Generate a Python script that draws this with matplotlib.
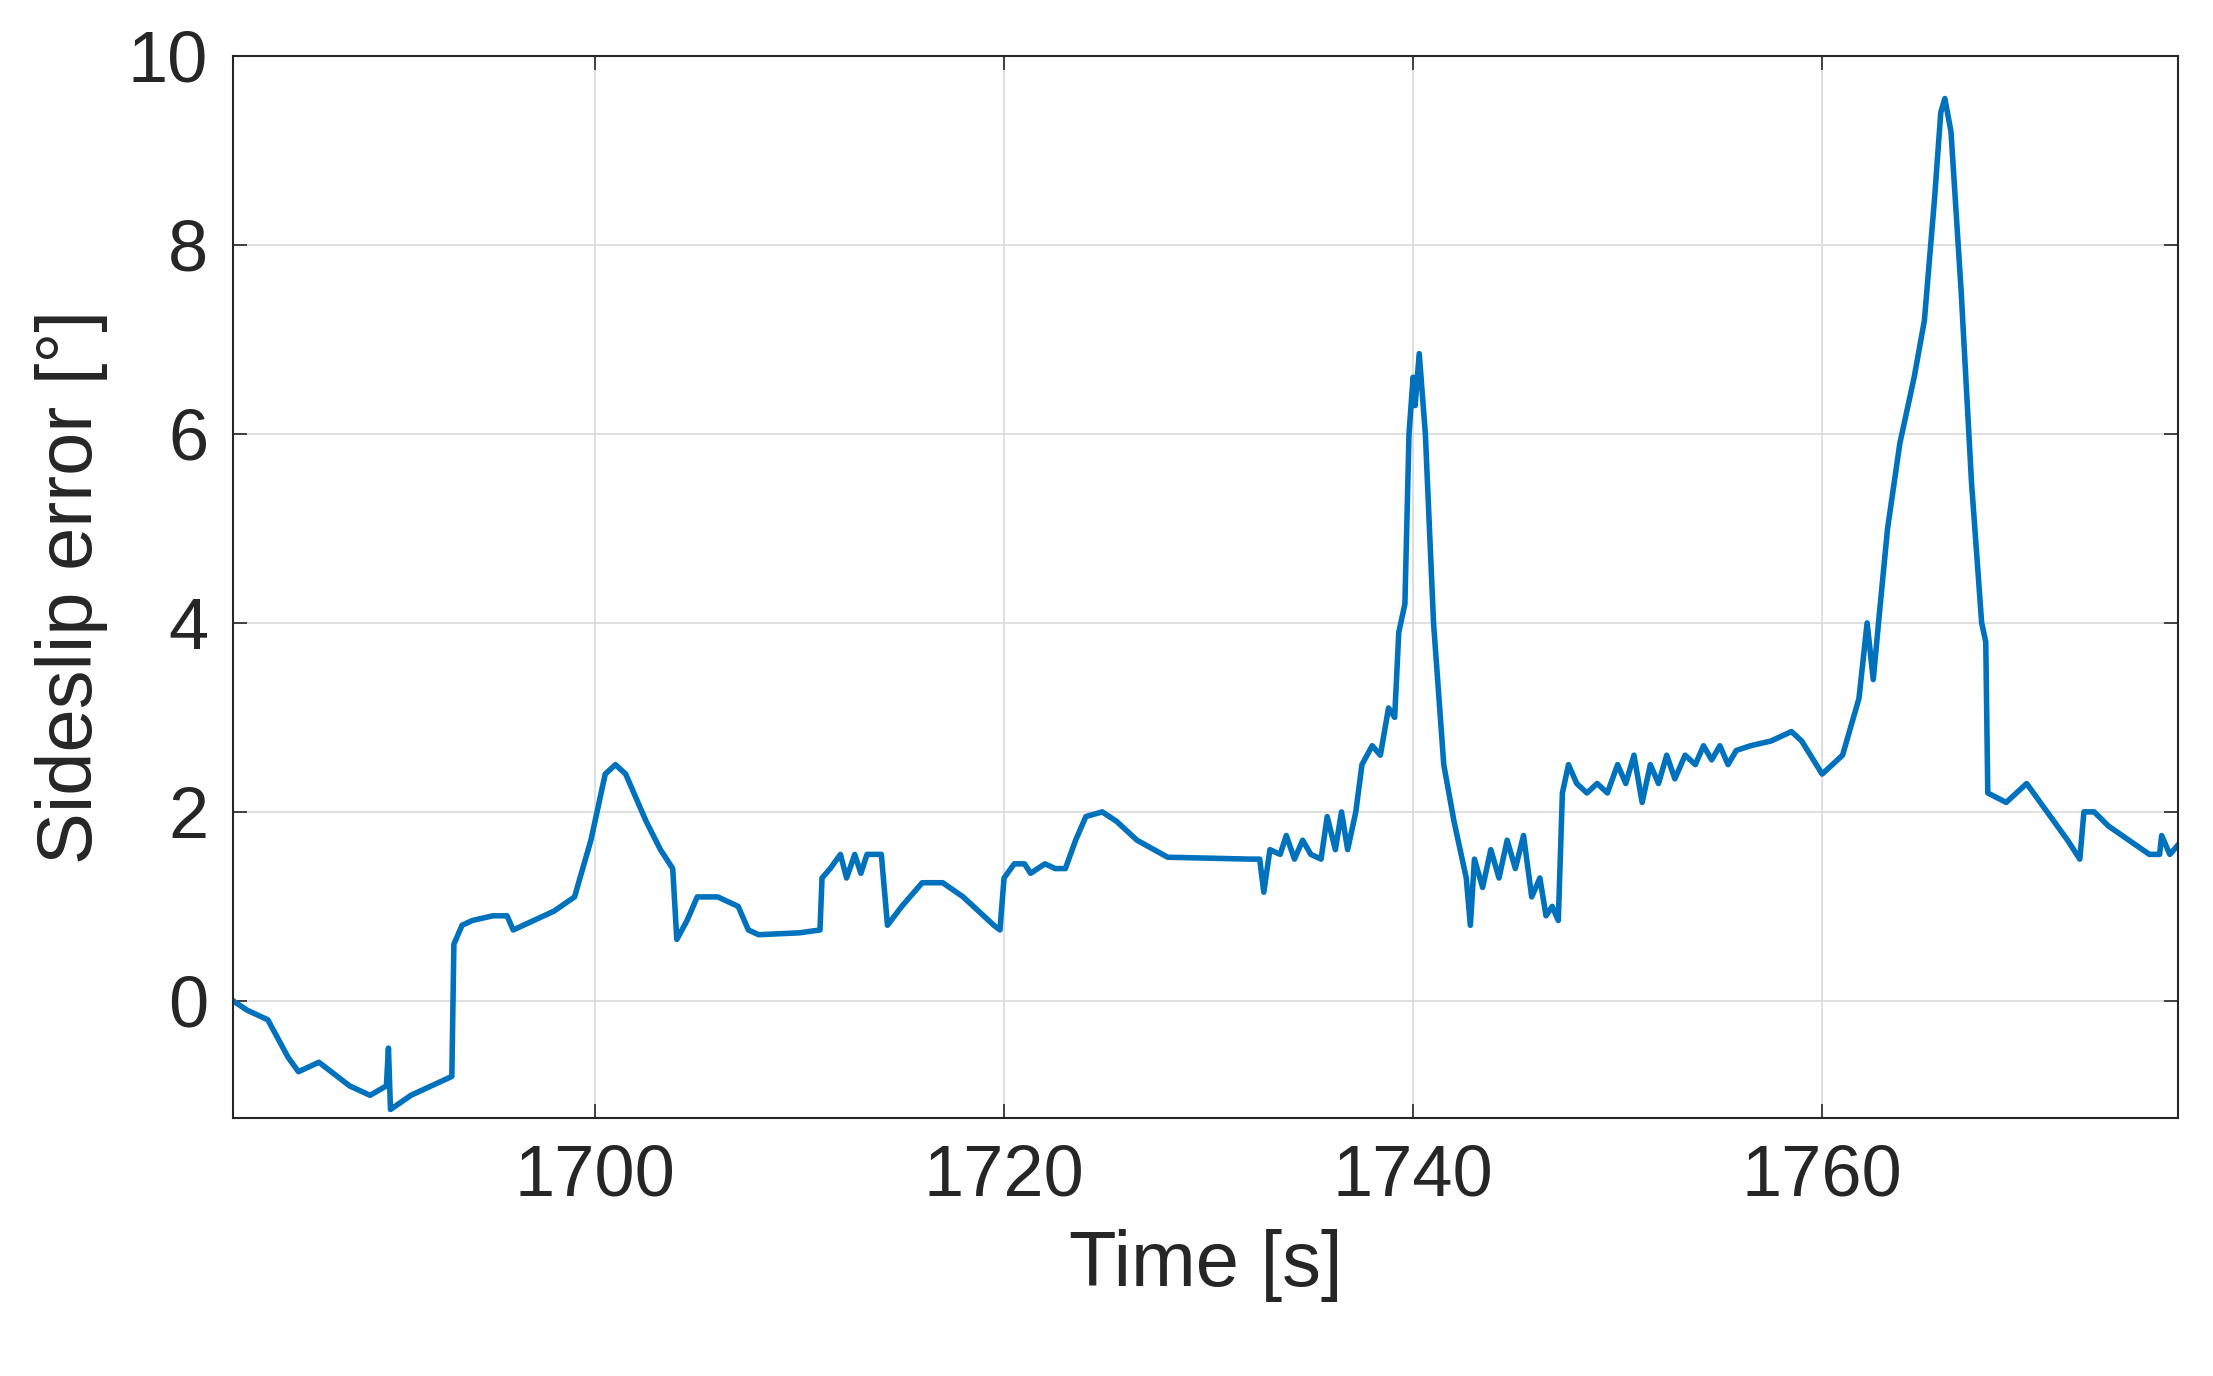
import matplotlib
matplotlib.use("Agg")
import matplotlib.pyplot as plt

t = [1682.3,1683,1684,1685,1685.5,1686.5,1688,1689,1689.8,1689.9,1690,1691,1693,1693.1,1693.5,1694,1695,1695.7,1696,1697,1698,1699,1699.8,1700.5,1701,1701.5,1702.5,1703.2,1703.8,1704,1704.5,1705,1706,1707,1707.5,1708,1710,1711,1711.1,1711.5,1712,1712.3,1712.7,1713,1713.3,1714,1714.3,1715,1716,1717,1718,1719.5,1719.8,1720,1720.5,1721,1721.3,1722,1722.5,1723,1723.5,1724,1724.8,1725.5,1726.5,1728,1732,1732.5,1732.7,1733,1733.5,1733.8,1734.2,1734.6,1735,1735.5,1735.8,1736.2,1736.5,1736.8,1737.2,1737.5,1738,1738.4,1738.8,1739.1,1739.3,1739.6,1739.8,1740,1740.1,1740.3,1740.6,1741,1741.5,1742,1742.3,1742.6,1742.8,1743,1743.4,1743.8,1744.2,1744.6,1745,1745.4,1745.8,1746.2,1746.5,1746.8,1747.1,1747.3,1747.6,1748,1748.5,1749,1749.5,1750,1750.4,1750.8,1751.2,1751.6,1752,1752.4,1752.8,1753.3,1753.8,1754.2,1754.6,1755,1755.4,1755.8,1756.5,1757.5,1758.5,1759,1760,1761,1761.8,1762.2,1762.5,1762.8,1763.2,1763.8,1764.5,1765,1765.5,1765.8,1766,1766.3,1766.8,1767.3,1767.8,1768,1768.1,1769,1770,1771,1772,1772.6,1772.8,1773.3,1774,1775,1776,1776.5,1776.6,1777,1777.4]
err = [0,-0.1,-0.2,-0.6,-0.75,-0.65,-0.9,-1.0,-0.9,-0.5,-1.15,-1.0,-0.8,0.6,0.8,0.85,0.9,0.9,0.75,0.85,0.95,1.1,1.7,2.4,2.5,2.4,1.9,1.6,1.4,0.65,0.85,1.1,1.1,1.0,0.75,0.7,0.72,0.75,1.3,1.4,1.55,1.3,1.55,1.35,1.55,1.55,0.8,1.0,1.25,1.25,1.1,0.8,0.75,1.3,1.45,1.45,1.35,1.45,1.4,1.4,1.7,1.95,2.0,1.9,1.7,1.52,1.5,1.5,1.15,1.6,1.55,1.75,1.5,1.7,1.55,1.5,1.95,1.6,2.0,1.6,2.0,2.5,2.7,2.6,3.1,3.0,3.9,4.2,6.0,6.6,6.3,6.85,6.0,4.0,2.5,1.9,1.6,1.3,0.8,1.5,1.2,1.6,1.3,1.7,1.4,1.75,1.1,1.3,0.9,1.0,0.85,2.2,2.5,2.3,2.2,2.3,2.2,2.5,2.3,2.6,2.1,2.5,2.3,2.6,2.35,2.6,2.5,2.7,2.55,2.7,2.5,2.65,2.7,2.75,2.85,2.75,2.4,2.6,3.2,4.0,3.4,4.1,5.0,5.9,6.6,7.2,8.5,9.4,9.55,9.2,7.5,5.5,4.0,3.8,2.2,2.1,2.3,2.0,1.7,1.5,2.0,2.0,1.85,1.7,1.55,1.55,1.75,1.55,1.65]
xticks = [1700, 1720, 1740, 1760]
yticks = [0, 2, 4, 6, 8, 10]

plt.rcParams['font.family'] = ['Liberation Sans', 'DejaVu Sans']
fig = plt.figure(figsize=(22.13, 13.76), dpi=100)
ax = fig.add_axes([233/2213, 1-1118/1376, (2178-233)/2213, (1118-56)/1376])
ax.plot(t, err, color='#0072BD', lw=4)
ax.set_xlim(1682.3, 1777.4)
ax.set_ylim(-1.24, 10)
ax.set_xticks(xticks)
ax.set_yticks(yticks)
ax.grid(True, color='#d9d9d9', lw=1.2)
ax.tick_params(direction='in', length=10, width=1.2, labelsize=52, colors='#262626',
               top=True, right=True, pad=18)
for s in ax.spines.values():
    s.set_color('#262626'); s.set_linewidth(1.5)
ax.set_xlabel('Time [s]', fontsize=56, color='#262626', labelpad=14)
ax.set_ylabel('Sideslip error [°]', fontsize=56, color='#262626', labelpad=14)
fig.savefig('out.png')
